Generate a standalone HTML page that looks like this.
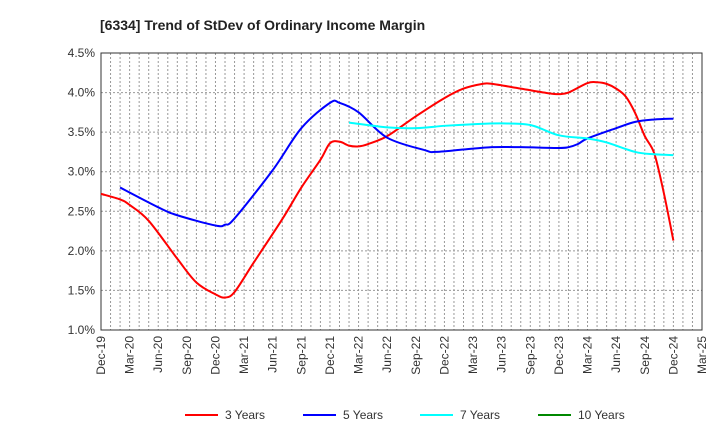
<!DOCTYPE html>
<html><head><meta charset="utf-8"><style>
body{margin:0;background:#fff;font-family:"Liberation Sans",sans-serif}
</style></head><body>
<svg id="c" width="720" height="440" xmlns="http://www.w3.org/2000/svg">
<text x="100" y="30" font-size="14" font-weight="bold" fill="#222">[6334]  Trend of StDev of Ordinary Income Margin</text>
<g id="grid"></g><g id="axes"></g><g id="series"></g><g id="legend"></g>
</svg>
<script>
const yTicks=[1.0,1.5,2.0,2.5,3.0,3.5,4.0,4.5];
const xLabels=["Dec-19","Mar-20","Jun-20","Sep-20","Dec-20","Mar-21","Jun-21","Sep-21","Dec-21","Mar-22","Jun-22","Sep-22","Dec-22","Mar-23","Jun-23","Sep-23","Dec-23","Mar-24","Jun-24","Sep-24","Dec-24","Mar-25"];
const s3m=[0,2,3,5,8,10,12,13,14,16,19,21,23,24,25,26,27,28,30,33,36,38,40,41,44,47,48,49,51,52,53,54,55,56,57,58,59,60];
const s3v=[2.72,2.65,2.58,2.38,1.90,1.60,1.45,1.41,1.48,1.85,2.40,2.80,3.15,3.36,3.38,3.33,3.32,3.35,3.45,3.70,3.93,4.05,4.11,4.11,4.05,3.99,3.98,4.00,4.12,4.13,4.11,4.05,3.95,3.74,3.45,3.23,2.73,2.13];
const s5m=[2,6,8,12,13,14,18,21,24,25,27,30,34,35,38,41,44,48,49,50,51,54,56,58,60];
const s5v=[2.80,2.55,2.45,2.32,2.33,2.41,3.02,3.55,3.87,3.87,3.75,3.43,3.27,3.25,3.28,3.31,3.31,3.30,3.31,3.35,3.42,3.55,3.63,3.66,3.67];
const s7m=[26,30,33,36,39,42,45,48,51,53,56,58,60];
const s7v=[3.62,3.56,3.55,3.58,3.60,3.61,3.59,3.46,3.42,3.37,3.25,3.22,3.21];
const s10m=[],s10v=[];
const L=101,R=702,T=53,B=330;
const x=m=>L+(R-L)*m/63, y=v=>B-(v-1)/3.5*(B-T);
const NS="http://www.w3.org/2000/svg";
function mk(p,t,a){const e=document.createElementNS(NS,t);for(const k in a)e.setAttribute(k,a[k]);p.appendChild(e);return e;}
const g=document.getElementById('grid'),ax=document.getElementById('axes'),se=document.getElementById('series'),lg=document.getElementById('legend');
for(let m=1;m<63;m++){const l=mk(g,'line',{x1:x(m),x2:x(m),y1:T,y2:B,stroke:'#999','stroke-dasharray':'2,2'});
}
yTicks.forEach(v=>{const l=mk(g,'line',{x1:L,x2:R,y1:y(v),y2:y(v),stroke:'#999','stroke-dasharray':'2,2'});

const t=mk(ax,'text',{x:L-6,y:y(v)+4,'text-anchor':'end','font-size':12,fill:'#333'});t.textContent=v.toFixed(1)+'%';
});
const fr=mk(ax,'rect',{x:L,y:T,width:R-L,height:B-T,fill:'none',stroke:'#333'});

xLabels.forEach((s,i)=>{const px=x(i*3);const t=mk(ax,'text',{x:0,y:0,transform:`translate(${px+4},${B+6}) rotate(-90)`,'text-anchor':'end','font-size':12,fill:'#333'});t.textContent=s;
});
function line(ms,vs,c,n){if(!ms.length)return;
const P=ms.map((m,i)=>[x(m),y(vs[i])]);let d='M'+P[0][0]+','+P[0][1];
for(let i=0;i<P.length-1;i++){const p0=P[Math.max(0,i-1)],p1=P[i],p2=P[i+1],p3=P[Math.min(P.length-1,i+2)];
const c1=[p1[0]+(p2[0]-p0[0])/6,p1[1]+(p2[1]-p0[1])/6],c2=[p2[0]-(p3[0]-p1[0])/6,p2[1]-(p3[1]-p1[1])/6];
d+=` C${c1[0]},${c1[1]} ${c2[0]},${c2[1]} ${p2[0]},${p2[1]}`;}
const p=mk(se,'path',{d:d,fill:'none',stroke:c,'stroke-width':2,'stroke-linejoin':'round'});
}
line(s3m,s3v,'#f00','line-3-years');line(s5m,s5v,'#00f','line-5-years');line(s7m,s7v,'#0ff','line-7-years');line(s10m,s10v,'#080','line-10-years');
[['3 Years','#f00',185],['5 Years','#00f',303],['7 Years','#0ff',420],['10 Years','#080',538]].forEach(([n,c,lx])=>{
const l=mk(lg,'line',{x1:lx,x2:lx+33,y1:415,y2:415,stroke:c,'stroke-width':2});
const t=mk(lg,'text',{x:lx+40,y:419,'font-size':12,fill:'#333'});t.textContent=n;});
</script>
</body></html>
